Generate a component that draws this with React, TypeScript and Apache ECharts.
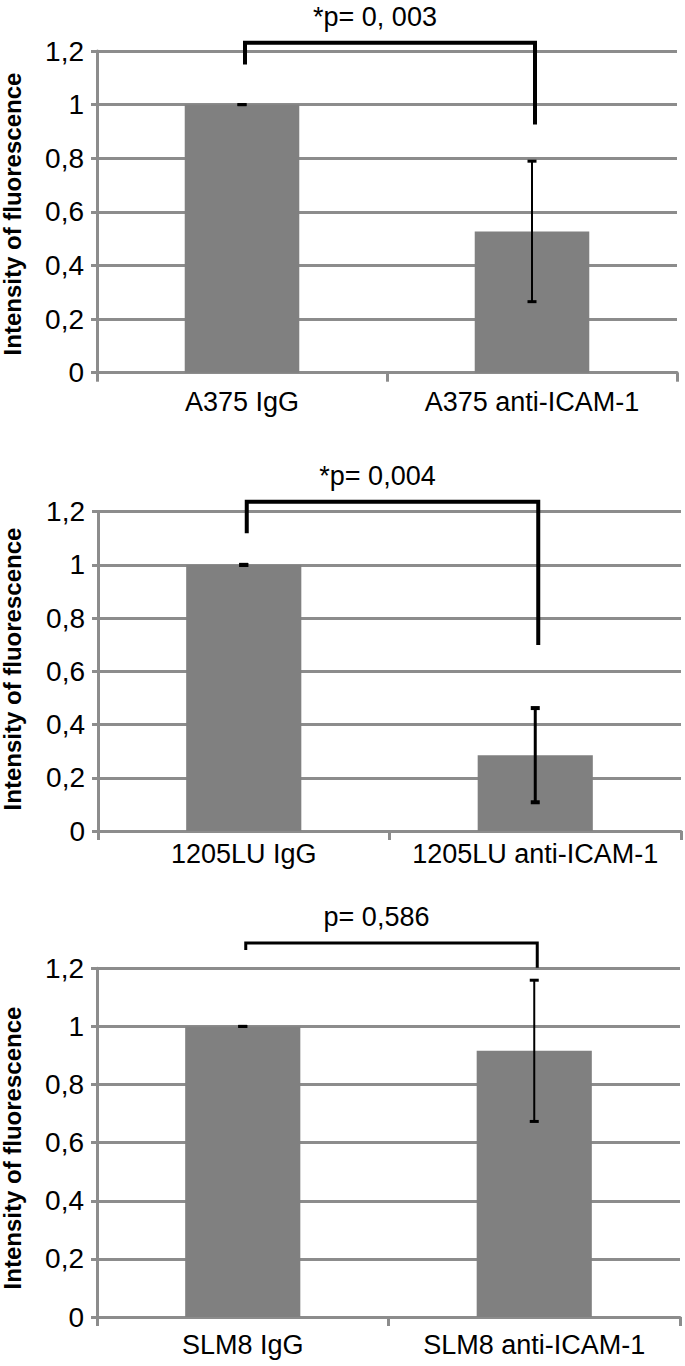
import React, { useEffect, useRef } from "react";
import * as echarts from "echarts";

// ---- data ----
const categoriesA375 = ["A375 IgG", "A375 anti-ICAM-1"];
const categories1205 = ["1205LU IgG", "1205LU anti-ICAM-1"];
const categoriesSLM8 = ["SLM8 IgG", "SLM8 anti-ICAM-1"];
const meansA375 = [1, 0.527];
const means1205 = [1, 0.285];
const meansSLM8 = [1, 0.916];
const errorsA375 = [0, 0.262];
const errors1205 = [0, 0.177];
const errorsSLM8 = [0, 0.243];
const pLabels = ["*p= 0, 003", "*p= 0,004", "p= 0,586"];
const bracketTop = [1.231, 1.2375, 1.287];
const bracketLeftEnd = [1.15, 1.119, 1.263];
const bracketRightEnd = [0.926, 0.699, 1.202];
const yTickLabels = ["0", "0,2", "0,4", "0,6", "0,8", "1", "1,2"];
const yAxisTitle = "Intensity of fluorescence";

const categories = [categoriesA375, categories1205, categoriesSLM8];
const means = [meansA375, means1205, meansSLM8];
const errors = [errorsA375, errors1205, errorsSLM8];

// ---- layout ----
const grids = [
  { left: 97, top: 51, width: 580, height: 321.7 },
  { left: 98, top: 511.7, width: 583, height: 319.3 },
  { left: 97, top: 968.3, width: 583, height: 348.7 },
];
const xLabelMargins = [16, 9, 14];
const errWidths = [2, 3, 2];
const bracketWidths = [4, 4, 3];
const yTitleCenters = [214, 669, 1148];

const FONT = '"Liberation Sans", Arial, Helvetica, sans-serif';
const GRID_COLOR = "#8c8c8c";

export default function App() {
  const ref = useRef<HTMLDivElement>(null);
  useEffect(() => {
    if (!ref.current) return;
    const chart = echarts.init(ref.current, undefined, { renderer: "svg" });

    const xAxis: any[] = [];
    const yAxis: any[] = [];
    const series: any[] = [];
    const graphic: any[] = [];

    for (let i = 0; i < 3; i++) {
      xAxis.push({
        type: "category",
        gridIndex: i,
        data: categories[i],
        axisLine: { show: true, lineStyle: { color: GRID_COLOR, width: 3 } },
        axisTick: { show: true, length: 9, lineStyle: { color: GRID_COLOR, width: 3 } },
        axisLabel: {
          interval: 0,
          color: "#000",
          fontSize: 27,
          fontFamily: FONT,
          margin: xLabelMargins[i],
        },
        splitLine: { show: false },
      });
      yAxis.push({
        type: "value",
        gridIndex: i,
        min: 0,
        max: 1.2,
        interval: 0.2,
        axisLine: { show: true, lineStyle: { color: GRID_COLOR, width: 3 } },
        axisTick: { show: true, length: 6, lineStyle: { color: GRID_COLOR, width: 3 } },
        axisLabel: {
          color: "#000",
          fontSize: 28,
          fontFamily: FONT,
          margin: 13,
          formatter: (v: number) => yTickLabels[Math.round(v / 0.2)] ?? "",
        },
        splitLine: { show: true, lineStyle: { color: GRID_COLOR, width: 3 } },
      });
      series.push({
        type: "bar",
        xAxisIndex: i,
        yAxisIndex: i,
        data: means[i],
        barWidth: "39.5%",
        itemStyle: { color: "#808080" },
        z: 2,
      });
      const ew = errWidths[i];
      series.push({
        type: "custom",
        xAxisIndex: i,
        yAxisIndex: i,
        z: 4,
        clip: false,
        data: means[i].map((m, j) => [j, m, errors[i][j]]),
        renderItem: (params: any, api: any) => {
          const idx = api.value(0);
          const m = api.value(1);
          const e = api.value(2);
          const hi = api.coord([idx, m + e]);
          const lo = api.coord([idx, m - e]);
          const cap = 4.5;
          const st = { stroke: "#000", lineWidth: ew };
          const capSt = { stroke: "#000", lineWidth: ew + 1 };
          return {
            type: "group",
            children: [
              { type: "line", shape: { x1: hi[0], y1: hi[1], x2: lo[0], y2: lo[1] }, style: st },
              { type: "line", shape: { x1: hi[0] - cap, y1: hi[1], x2: hi[0] + cap, y2: hi[1] }, style: capSt },
              { type: "line", shape: { x1: lo[0] - cap, y1: lo[1], x2: lo[0] + cap, y2: lo[1] }, style: capSt },
            ],
          };
        },
      });
      const bw = bracketWidths[i];
      const label = pLabels[i];
      series.push({
        type: "custom",
        xAxisIndex: i,
        yAxisIndex: i,
        z: 5,
        clip: false,
        data: [[0, 1, bracketTop[i], bracketLeftEnd[i], bracketRightEnd[i]]],
        renderItem: (params: any, api: any) => {
          const a = api.value(0);
          const b = api.value(1);
          const top = api.value(2);
          const le = api.value(3);
          const re = api.value(4);
          const p1 = api.coord([a, le]);
          const p2 = api.coord([a, top]);
          const p3 = api.coord([b, top]);
          const p4 = api.coord([b, re]);
          const off = 3;
          return {
            type: "group",
            children: [
              {
                type: "polyline",
                shape: {
                  points: [
                    [p1[0] + off, p1[1]],
                    [p2[0] + off, p2[1]],
                    [p3[0] + off, p3[1]],
                    [p4[0] + off, p4[1]],
                  ],
                },
                style: { stroke: "#000", lineWidth: bw, fill: null, lineJoin: "miter" },
              },
              {
                type: "text",
                x: (p2[0] + p3[0]) / 2 - 12,
                y: p2[1] - 26,
                style: {
                  text: label,
                  fill: "#000",
                  font: `27px ${FONT}`,
                  align: "center",
                  verticalAlign: "middle",
                  textAlign: "center",
                  textVerticalAlign: "middle",
                },
              },
            ],
          };
        },
      });
      graphic.push({
        type: "text",
        x: 12.5,
        y: yTitleCenters[i],
        rotation: Math.PI / 2,
        style: {
          text: yAxisTitle,
          fill: "#000",
          font: `bold 24px ${FONT}`,
          align: "center",
          verticalAlign: "middle",
          textAlign: "center",
          textVerticalAlign: "middle",
        },
      });
    }

    chart.setOption({
      animation: false,
      backgroundColor: "#fff",
      grid: grids.map((g) => ({ ...g, containLabel: false })),
      xAxis,
      yAxis,
      series,
      graphic,
    });
    return () => chart.dispose();
  }, []);

  return (
    <div
      ref={ref}
      style={{ position: "absolute", left: 0, top: 0, width: 685, height: 1366, background: "#fff" }}
    />
  );
}
